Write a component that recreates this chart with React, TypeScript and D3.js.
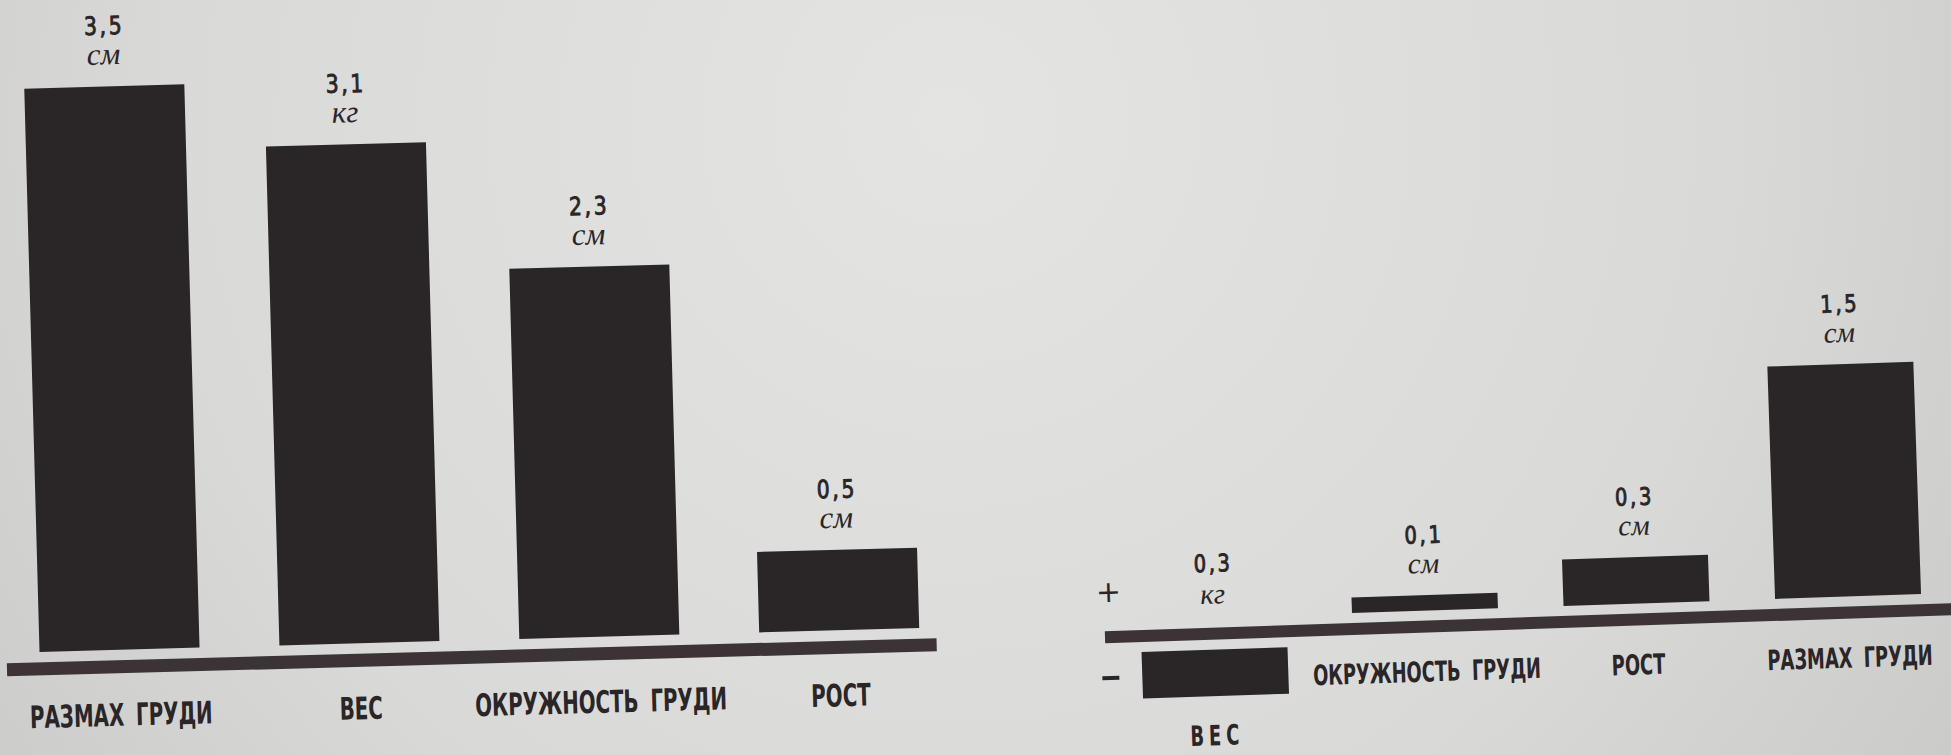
import React, { useEffect } from 'react';
import * as d3 from 'd3';

// ---- data ----
const leftCategories = ['РАЗМАХ ГРУДИ', 'ВЕС', 'ОКРУЖНОСТЬ ГРУДИ', 'РОСТ'];
const leftValues = [3.5, 3.1, 2.3, 0.5];
const leftUnits = ['см', 'кг', 'см', 'см'];

const rightCategories = ['ВЕС', 'ОКРУЖНОСТЬ ГРУДИ', 'РОСТ', 'РАЗМАХ ГРУДИ'];
const rightValues = [-0.3, 0.1, 0.3, 1.5];
const rightUnits = ['кг', 'см', 'см', 'см'];

const W = 1951;
const H = 755;
const INK = '#2a2527';
const LINE = '#3b3336';

const fmt = (v: number) => d3.format('.1f')(Math.abs(v)).replace('.', ',');

const LABEL_FONT = "'Liberation Sans Narrow', 'DejaVu Sans Condensed', 'Roboto', sans-serif";
const NUM_FONT = "'DejaVu Sans Condensed', 'Roboto', sans-serif";
const UNIT_FONT = "'Liberation Serif', 'DejaVu Serif', serif";

type PanelProps = {
  cats: string[];
  vals: number[];
  units: string[];
  range: [number, number];
  pad: number;
  baseY: number;
  gap: number;
  ppu: number;
  angle: number;
  pivotX: number;
  lineX0: number;
  lineX1: number;
  lineW: number;
  labelSize: number;
  labelDy: number;
  numSize: number;
  unitSize: number;
  signs?: boolean;
};

function Panel(p: PanelProps) {
  const x = d3.scaleBand<string>().domain(p.cats).range(p.range).paddingInner(p.pad).paddingOuter(0);
  const maxV = d3.max(p.vals) as number;
  const yUp = d3.scaleLinear().domain([0, maxV]).range([p.baseY - p.gap, p.baseY - p.gap - p.ppu * maxV]);
  const yDown = d3.scaleLinear().domain([0, -1]).range([p.baseY + p.gap, p.baseY + p.gap + p.ppu]);
  const bw = x.bandwidth();

  return (
    <g transform={`rotate(${p.angle} ${p.pivotX} ${p.baseY})`}>
      <rect
        x={p.lineX0}
        y={p.baseY - p.lineW / 2}
        width={p.lineX1 - p.lineX0}
        height={p.lineW}
        fill={LINE}
      />
      {p.cats.map((c, i) => {
        const v = p.vals[i];
        const x0 = x(c) as number;
        const cx = x0 + bw / 2;
        const neg = v < 0;
        const top = neg ? yDown(0) : yUp(v);
        const bottom = neg ? yDown(v) : yUp(0);
        const numY = neg ? p.baseY - 62 : top - 52;
        const unitY = neg ? p.baseY - 30 : top - 22;
        const labY = neg ? bottom + 39 + p.labelSize * 0.36 : p.baseY + p.labelDy;
        return (
          <g key={c}>
            <rect x={x0} y={top} width={bw} height={bottom - top} fill={INK} />
            <text
              transform={`translate(${cx + 1.5},${numY}) scale(0.9,1)`}
              textAnchor="middle"
              fontFamily={NUM_FONT}
              fontSize={p.numSize}
              fill={INK}
              letterSpacing={3}
              stroke={INK}
              strokeWidth={0.9}
            >
              {fmt(v)}
            </text>
            <text
              x={cx}
              y={unitY}
              textAnchor="middle"
              fontFamily={UNIT_FONT}
              fontStyle="italic"
              fontSize={p.unitSize}
              fill={INK}
            >
              {p.units[i]}
            </text>
            <text
              transform={`translate(${cx},${labY}) scale(0.71,1)`}
              textAnchor="middle"
              fontFamily={LABEL_FONT}
              fontWeight="bold"
              fontSize={p.labelSize}
              letterSpacing={neg ? 7 : 0}
              wordSpacing={7}
              fill={INK}
            >
              {c}
            </text>
          </g>
        );
      })}
      {p.signs && (
        <g>
          <text
            x={p.range[0] - 31}
            y={p.baseY - 44 + 9}
            textAnchor="middle"
            fontFamily="'DejaVu Sans', sans-serif"
            fontSize={30}
            fill={INK}
          >
            +
          </text>
          <rect x={p.range[0] - 40} y={p.baseY + 39} width={17} height={4} fill={INK} />
        </g>
      )}
    </g>
  );
}

export default function App() {
  useEffect(() => {
    document.body.style.margin = '0';
    document.body.style.overflow = 'hidden';
  }, []);

  return (
    <svg
      width={W}
      height={H}
      viewBox={`0 0 ${W} ${H}`}
      style={{ display: 'block', position: 'absolute', left: 0, top: 0 }}
    >
      <defs>
        <radialGradient id="paper" cx="950" cy="120" r="1300" gradientUnits="userSpaceOnUse">
          <stop offset="0" stopColor="#e4e4e2" />
          <stop offset="0.6" stopColor="#d9d9d7" />
          <stop offset="1" stopColor="#c7c7c5" />
        </radialGradient>
      </defs>
      <rect x={0} y={0} width={W} height={H} fill="url(#paper)" />
      <Panel
        cats={leftCategories}
        vals={leftValues}
        units={leftUnits}
        range={[40, 920]}
        pad={0.333}
        baseY={670}
        gap={17}
        ppu={161}
        angle={-1.55}
        pivotX={0}
        lineX0={7}
        lineX1={937}
        lineW={13}
        labelSize={31}
        labelDy={59}
        numSize={25}
        unitSize={31}
      />
      <Panel
        cats={rightCategories}
        vals={rightValues}
        units={rightUnits}
        range={[1141, 1922]}
        pad={0.31}
        baseY={637}
        gap={16}
        ppu={155}
        angle={-1.9}
        pivotX={1111}
        lineX0={1105}
        lineX1={1975}
        lineW={12}
        labelSize={28}
        labelDy={55}
        numSize={24}
        unitSize={29}
        signs
      />
    </svg>
  );
}
